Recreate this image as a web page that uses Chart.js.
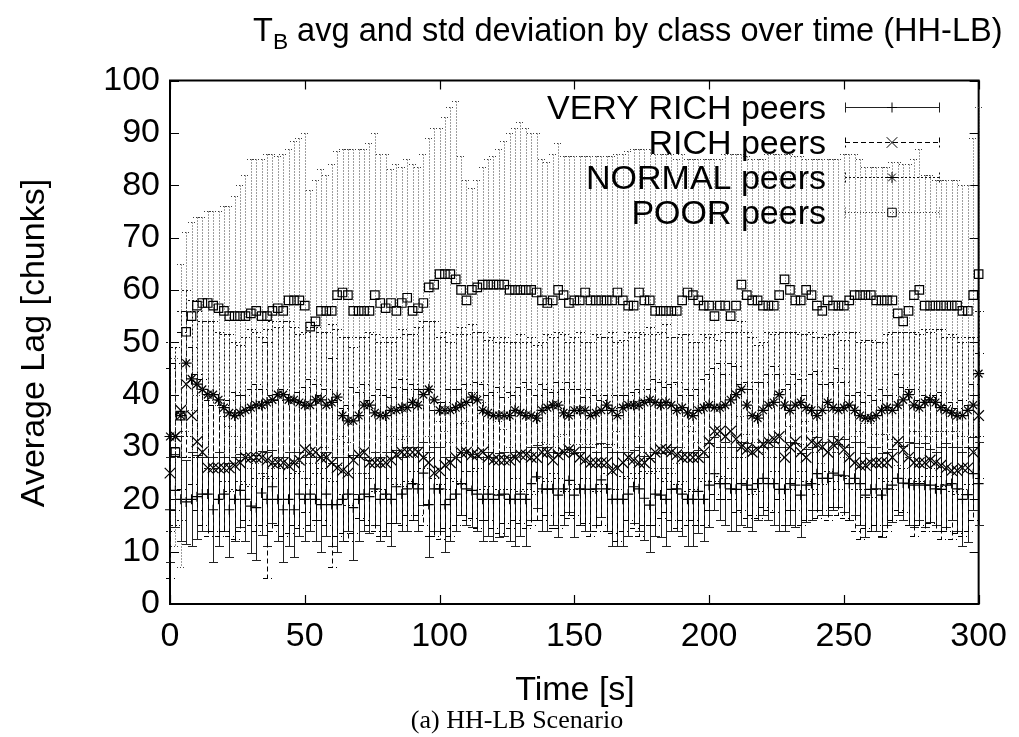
<!DOCTYPE html>
<html><head><meta charset="utf-8">
<script src="https://cdn.jsdelivr.net/npm/chart.js@4.4.1/dist/chart.umd.min.js"></script>
<style>html,body{margin:0;padding:0;background:#fff;}#wrap{width:1019px;height:737px;position:relative;}</style>
</head><body><div id="wrap"><canvas id="c"></canvas></div>
<script>
const times = [0,2,4,6,8,10,12,14,16,18,
 20,22,24,26,28,30,32,34,36,38,
 40,42,44,46,48,50,52,54,56,58,
 60,62,64,66,68,70,72,74,76,78,
 80,82,84,86,88,90,92,94,96,98,
 100,102,104,106,108,110,112,114,116,118,
 120,122,124,126,128,130,132,134,136,138,
 140,142,144,146,148,150,152,154,156,158,
 160,162,164,166,168,170,172,174,176,178,
 180,182,184,186,188,190,192,194,196,198,
 200,202,204,206,208,210,212,214,216,218,
 220,222,224,226,228,230,232,234,236,238,
 240,242,244,246,248,250,252,254,256,258,
 260,262,264,266,268,270,272,274,276,278,
 280,282,284,286,288,290,292,294,296,298,300];

const veryRichMean = [18,21.7,20,19.5,20,20.5,21,21,18,20,
 21,18,20,21.7,20,18.7,18.4,21.2,20,22.4,
 20,18,20,18,21,20,21,20,19,21,
 19,19,20,21,18.4,20,21,20.5,22,20,
 21,20,22.4,21,22,23,22,25,19,22,
 22,19,20,21,23,22,21.7,21,20,21,
 20,20.8,21,20,20,21,20,23,24.3,22,
 21.9,22,20.8,22,23.6,20.8,22,21.9,21.9,22,
 23.7,22,20,20,20,21,22.4,22,20.2,18.9,
 21,20.8,20,21.9,22,21,20,20,21.5,20,
 22.7,24.9,23,23,22,21.9,23,22.7,21.9,23,
 24,23,23,21.9,21.9,23,22.7,20.8,22.7,23,
 24.9,24,24,25,24.6,24.5,23,24,23,20.8,
 21.9,22,20.8,22,22.7,24,23.1,23,22.7,23,
 22.7,22.7,22,21.9,22.7,23,22,20,20.9,24.9,23];
const veryRichStd = [10,7,8,8,9,8,7,7,10,9,
 7,9,8,7,8,9,10,8,9,7,
 8,10,9,9,8,8,7,8,9,8,
 8,9,8,7,10,8,7,7,7,8,
 8,9,7,7,8,7,8,6,10,8,
 8,9,8,7,6,7,7,7,8,8,
 8,8,8,8,9,8,9,7,6,8,
 8,7,8,7,6,8,7,8,8,7,
 7,8,9,9,9,8,7,8,8,9,
 8,8,9,8,8,8,9,9,8,8,
 8,7,7,8,8,8,8,8,8,7,
 7,7,8,8,8,8,8,8,7,7,
 7,7,7,7,6,7,7,7,8,8,
 8,8,8,7,7,7,7,8,8,7,
 8,7,7,8,8,7,8,9,9,7,8];

const richMean = [25,32,37,42,36,31,29,26,26,26,
 26,26,26.5,27,28,28,28,28,27.5,27,
 27,27,26.5,27,27.5,29.5,29,29,28,28,
 27,26,25.5,25,27.5,28.5,29,27,27,27,
 27,27.5,28.5,29,29,29,29,28,27,25,
 25.5,26.5,27,28,29,29,28.5,28.5,29,28,
 27.5,27.5,27.5,27.5,28,28.5,28.5,28,28,29,
 29,27.5,28.5,29,29.5,29,28,27.5,27,27,
 27,27,25.5,26,27,28,27.5,27,27,28,
 29,29.5,29.5,29,28.5,28,28,28,28,29,
 31,33,33,32,33,31.5,30,29.5,29,29.5,
 30.5,31,31.5,32,28,30,31,29,28,31,
 30.5,30,29,30.5,31,29.5,28,27,26.5,26.5,
 27,27,27,27,28,31,29.5,28,27,27,
 27,27.5,27,26.5,26,25.5,25.5,26,26,29,36];
const richStd = [20,14,15,14,13,13,14,13,12,13,
 12,13,14,13,12,13,14,13,22.5,13,
 12,14,13,12,13,12,14,13,12,13,
 20,13,12,13,14,12,13,12,13,14,
 13,12,13,14,12,13,12,13,14,12,
 13,12,14,13,12,13,12,14,13,12,
 13,14,12,13,12,13,14,13,12,13,
 12,13,14,12,13,12,13,12,14,13,
 12,13,12,14,13,12,13,14,12,13,
 14,13,12,13,14,12,13,12,13,14,
 13,12,13,12,13,14,12,13,12,13,
 12,13,14,12,13,12,13,14,12,13,
 14,12,13,12,14,13,12,13,14,12,
 13,12,14,13,12,13,12,13,14,12,
 13,12,13,14,12,13,12,13,12,13,12];

const normalMean = [32,32,36,46,43,42,41,40,40,39,
 37.5,36.5,36,36.5,37,37.5,38,38,38.5,39,
 40,40,39,39,38.5,38,38,39,39,38,
 38.5,39.5,36,35,35,36,38,38,36.5,36,
 36,37,37,37.5,37.5,38.5,38,40,41,39,
 37,37,37,37.5,38,38.5,39.5,39,37,36.5,
 36,36,36,36,37,36.5,36,36,35.5,37,
 37.5,38,38,36.5,36,37,37,37,36,36.5,
 37,38,37,36,37.5,38,38,38,38.5,39,
 38.5,38,38.5,38,37,37.5,36.5,36,37,37.5,
 38,37.5,37.5,38,39,40,41,38,36,35.5,
 37,38,38.5,40,38,37,38,38.5,37.5,37,
 36,37,38.5,37.5,37,37.5,38,37,36,35.5,
 35.5,36,37,37.5,37,38,39,40,38,37.5,
 38.5,39,38.5,37.5,37,36.5,36,36,37,38,44];
const normalStd = [18,17,20,14,15,14,13,14,14,13,
 14,15,14,13,14,15,14,13,14,15,
 13,14,15,14,13,14,15,14,13,14,
 15,13,15,16,14,15,13,14,15,14,
 15,13,14,15,14,13,15,14,13,15,
 14,15,13,14,15,13,14,13,15,14,
 15,14,15,14,13,15,14,15,14,13,
 14,13,14,15,14,14,15,13,14,15,
 14,13,15,14,13,14,13,14,13,14,
 13,14,15,13,14,14,15,14,13,14,
 13,14,13,14,13,12,13,14,15,14,
 13,14,13,12,14,15,14,13,14,15,
 15,14,13,14,15,13,14,15,14,15,
 15,14,13,14,15,14,13,12,14,14,
 14,13,14,15,14,15,15,14,14,13,12];

const poorMean = [null,29,36,52,55,57,57.5,57.5,57,56.5,
 56,55,55,55,55,55.5,56,55,55,56,
 56.5,56,58,58,58,57,53,54,56,56,
 56,59,59.5,59,56,56,56,56,59,57.5,
 56.5,57.5,56,57.5,58.5,56,56.5,57.5,60.5,61,
 63,63,63,62,60,58,60,60.5,61,61,
 61,61,61,60,60,60,60,60,59.5,58,
 57.5,58,60,59,57.5,58,58,59.5,58,58,
 58,58,58,59.5,58,57,57,59.5,58,58,
 56,56,56,56,56,58,59.5,59,58,57,
 57,55,57,57,55,57,61,59,58,58,
 57,57,57,59,62,60,58,58,60,59,
 57,56,58,57,57,57,58,59,59,59,
 59,58,58,58,58,55.5,54,56,59,60,
 57,57,57,57,57,57,57,56,56,59,63];
const poorStd = [null,18,29,19,18,17,16.5,17.5,18,18.5,
 20,21,23,25,27,29.5,29,30,31,30,
 29,30,29,30.5,31,33,26,27,27,26,
 28,27.5,27.5,28,31,31,31,32,31,28.5,
 29.5,25.5,28,26,26.5,28,27,28.5,28.5,30,
 28,30,32,34,25.5,23,19.5,20.5,22.5,24,
 24.5,26,27.5,30,31,32,31,30,30.5,27,
 27,28,28,26.5,28,27.5,27.5,26,27.5,27.5,
 27.5,27.5,27.5,26.5,28,29.5,30,27.5,29,29,
 30,30,30,30,29,28,25.5,26,27,28,
 28,30,28,29,31,29,25,26.5,27,27,
 28,29,29,27,24,26,27.5,27.5,25,26,
 28,29,27,28,28,29,28,27,26,24.5,
 24.5,25.5,25.5,25.5,26.5,29,30,28,26,27,
 25,25,24,24,24,24,24,24,24,30,32];

const seriesNames = ['VERY RICH peers','RICH peers','NORMAL peers','POOR peers'];
const xTicks = [0,50,100,150,200,250,300];
const yTicks = [0,10,20,30,40,50,60,70,80,90,100];
const titleMain = 'T', titleSub = 'B', titleRest = ' avg and std deviation by class over time (HH-LB)';
const xTitle = 'Time [s]', yTitle = 'Average Lag [chunks]', caption = '(a) HH-LB Scenario';

const means = [veryRichMean, richMean, normalMean, poorMean];
const stds = [veryRichStd, richStd, normalStd, poorStd];
means.concat(stds).forEach((a,k)=>{ if(a.length!==times.length) throw new Error('length mismatch '+k+' '+a.length); });

const SANS = '"Liberation Sans", Arial, Helvetica, sans-serif';
const styles = [
  {dash:[], color:'#222222', point:'cross', r:5},
  {dash:[5,3], color:'#000000', point:'crossRot', r:7.5},
  {dash:[2,2], color:'#111111', point:'star', r:5.5},
  {dash:[1,2], color:'#3d3d3d', point:'rect', r:6}
];
const CAP = 4.5;

const errorBars = {
  id:'errorBars',
  beforeDatasetDraw(chart, args){
    const i = args.index, s = styles[i], m = means[i], sd = stds[i];
    const xs = chart.scales.x, ys = chart.scales.y, ca = chart.chartArea, ctx = chart.ctx;
    ctx.save();
    ctx.beginPath(); ctx.rect(0, ca.top, chart.width, ca.bottom - ca.top); ctx.clip();
    ctx.strokeStyle = s.color; ctx.lineWidth = 1; ctx.setLineDash(s.dash);
    ctx.beginPath();
    for (let k=0;k<times.length;k++){
      if (m[k]==null) continue;
      const x = Math.round(xs.getPixelForValue(times[k])) + 0.5;
      const yt = Math.round(ys.getPixelForValue(m[k]+sd[k])) + 0.5;
      const yb = Math.round(ys.getPixelForValue(m[k]-sd[k])) + 0.5;
      ctx.moveTo(x, yt); ctx.lineTo(x, yb);
      ctx.moveTo(x-CAP, yt); ctx.lineTo(x+CAP, yt);
      ctx.moveTo(x-CAP, yb); ctx.lineTo(x+CAP, yb);
    }
    ctx.stroke();
    ctx.restore();
  }
};

const frame = {
  id:'frame',
  beforeDatasetsDraw(chart){
    const ca = chart.chartArea, ctx = chart.ctx, xs = chart.scales.x, ys = chart.scales.y;
    ctx.save();
    ctx.strokeStyle = '#000'; ctx.lineWidth = 1.2; ctx.setLineDash([]);
    ctx.beginPath();
    const TL = 9;
    xTicks.forEach(v=>{ const x = Math.round(xs.getPixelForValue(v))+0.5;
      ctx.moveTo(x, ca.bottom); ctx.lineTo(x, ca.bottom-TL);
      ctx.moveTo(x, ca.top); ctx.lineTo(x, ca.top+TL); });
    yTicks.forEach(v=>{ const y = Math.round(ys.getPixelForValue(v))+0.5;
      ctx.moveTo(ca.left, y); ctx.lineTo(ca.left+TL, y);
      ctx.moveTo(ca.right, y); ctx.lineTo(ca.right-TL, y); });
    ctx.stroke();
    ctx.lineWidth = 2;
    ctx.strokeRect(ca.left, ca.top, ca.right-ca.left, ca.bottom-ca.top);
    ctx.restore();
  }
};

function drawMarker(ctx, style, x, y, r){
  ctx.save(); ctx.setLineDash([]); ctx.strokeStyle='#000'; ctx.fillStyle='rgba(0,0,0,0)'; ctx.lineWidth=1;
  Chart.helpers.drawPoint(ctx, {pointStyle: style, radius: r, borderWidth: 1, rotation: 0}, x, y);
  ctx.restore();
}

const texts = {
  id:'texts',
  afterDraw(chart){
    const ctx = chart.ctx;
    ctx.save();
    ctx.fillStyle = '#000';
    ctx.textBaseline = 'alphabetic'; ctx.textAlign = 'left';
    let fs = 34;
    const meas = f => { ctx.font = f+'px '+SANS; let w = ctx.measureText(titleMain+titleRest).width;
      ctx.font = (f*0.7)+'px '+SANS; w += ctx.measureText(titleSub).width; return w; };
    fs = fs * 750 / meas(fs);
    let x0 = 253;
    ctx.font = fs+'px '+SANS;
    ctx.fillText(titleMain, x0, 41);
    x0 += ctx.measureText(titleMain).width;
    ctx.font = (fs*0.7)+'px '+SANS;
    ctx.fillText(titleSub, x0, 49);
    x0 += ctx.measureText(titleSub).width;
    ctx.font = fs+'px '+SANS;
    ctx.fillText(titleRest, x0, 41);
    ctx.font = '34px ' + SANS;
    ctx.textAlign = 'center';
    ctx.fillText(xTitle, 575, 700);
    ctx.save(); ctx.translate(44, 343); ctx.rotate(-Math.PI/2);
    ctx.fillText(yTitle, 0, 0); ctx.restore();
    ctx.font = '26px "Liberation Serif", "Times New Roman", serif';
    ctx.fillText(caption, 517, 728);
    ctx.font = '34px ' + SANS; ctx.textAlign = 'right';
    const rows = [106.5, 141.5, 176.5, 212];
    seriesNames.forEach((n, i)=>{
      const y = rows[i], s = styles[i];
      ctx.fillStyle = '#000';
      ctx.fillText(n, 826, y + 12);
      ctx.save();
      ctx.strokeStyle = s.color; ctx.lineWidth = 1; ctx.setLineDash(s.dash);
      ctx.beginPath();
      const yy = Math.round(y)+0.5;
      ctx.moveTo(845, yy); ctx.lineTo(939, yy);
      ctx.moveTo(845.5, yy-5); ctx.lineTo(845.5, yy+5);
      ctx.moveTo(939.5, yy-5); ctx.lineTo(939.5, yy+5);
      ctx.stroke();
      ctx.restore();
      drawMarker(ctx, s.point, 892, yy, s.r);
    });
    ctx.restore();
  }
};

Chart.defaults.font.family = SANS;
Chart.defaults.color = '#000';

const datasets = means.map((m, i)=>({
  label: seriesNames[i],
  data: times.map((t,k)=>({x:t, y:m[k]})).filter(p=>p.y!=null),
  showLine: false,
  pointStyle: styles[i].point,
  pointRadius: styles[i].r,
  pointHoverRadius: styles[i].r,
  borderColor: '#000',
  pointBorderColor: '#000',
  backgroundColor: 'rgba(0,0,0,0)',
  pointBackgroundColor: 'rgba(0,0,0,0)',
  pointBorderWidth: 1.2,
  clip: false,
  order: 3 - i
}));

new Chart(document.getElementById('c'), {
  type: 'scatter',
  data: { datasets },
  options: {
    responsive: true, maintainAspectRatio: false, animation: false, events: [],
    layout: { padding: { top: 80.5, right: 38, bottom: 0, left: 0 } },
    plugins: { legend: { display: false }, tooltip: { enabled: false }, title: { display: false } },
    scales: {
      x: {
        type: 'linear', min: 0, max: 300,
        afterBuildTicks: s => { s.ticks = xTicks.map(v=>({value:v})); },
        afterFit: s => { s.height = 133; },
        grid: { display: false, drawTicks: false }, border: { display: false },
        ticks: { font: { size: 34 }, color: '#000', padding: 12, autoSkip: false, maxRotation: 0 }
      },
      y: {
        type: 'linear', min: 0, max: 100,
        afterBuildTicks: s => { s.ticks = yTicks.map(v=>({value:v})); },
        afterFit: s => { s.width = 170; },
        grid: { display: false, drawTicks: false }, border: { display: false },
        ticks: { font: { size: 34 }, color: '#000', padding: 10 }
      }
    }
  },
  plugins: [frame, errorBars, texts]
});
</script>
</body></html>
